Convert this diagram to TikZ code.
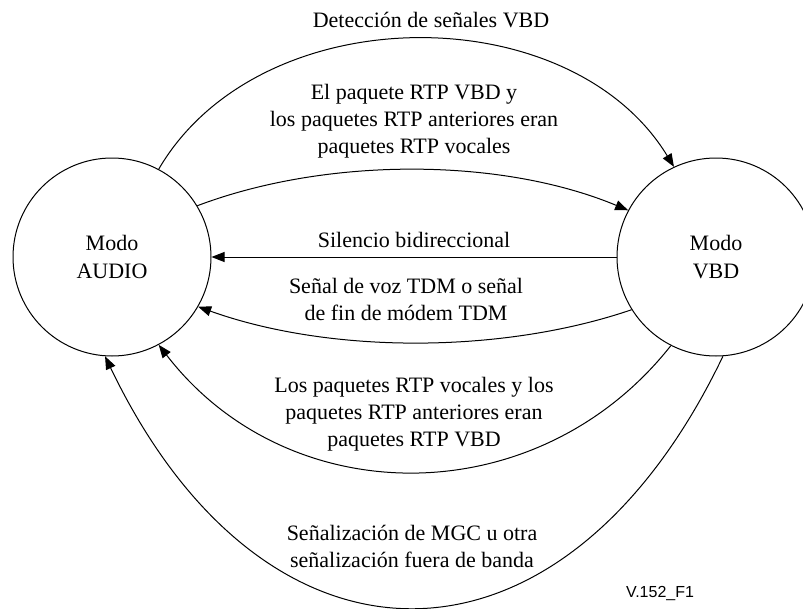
\documentclass[tikz,border=0pt]{standalone}
\usepackage{fontspec}
\setmainfont{Liberation Serif}
\newfontfamily\figsans{Liberation Sans}
\usetikzlibrary{arrows.meta}
\newcommand{\mlines}[1]{\begin{tabular}[t]{@{}c@{}}#1\end{tabular}}
\begin{document}
\begin{tikzpicture}[x=1pt,y=-1pt,
  statenode/.style={circle,draw,line width=1pt,minimum size=198pt,inner sep=0pt,align=center,font=\fontsize{22}{28}\selectfont},
  lbl/.style={anchor=base,inner sep=0pt,font=\fontsize{22}{27}\selectfont},
  trans/.style={line width=1pt,-{Triangle[length=13pt,width=10pt]}}]
\useasboundingbox (0,0) rectangle (803,608);
\clip (0,0) rectangle (803,608);
\node[statenode] (L) at (112,257) {Modo\\AUDIO};
\node[statenode] (R) at (716,257) {Modo\\VBD};
\draw[trans] (L.62.6) .. controls (260,-4) and (570,-4) .. (R.115);
\draw[trans] (L.31.5) .. controls (326,157) and (500,157) .. (R.152.9);
\draw[trans] (R.180) -- (L.0);
\draw[trans] (R.212.2) .. controls (502,354) and (330,354) .. (L.-30.1);
\draw[trans] (R.243.4) .. controls (538,514) and (289,514) .. (L.-62.9);
\draw[trans] (R.274) .. controls (562.5,691) and (265.5,691) .. (L.266);
\node[lbl] (t1) at (431,27) {Detección de señales VBD};
\node[lbl] (t2) at (414,99) {\mlines{El paquete RTP VBD y\\los paquetes RTP anteriores eran\\paquetes RTP vocales}};
\node[lbl] (t3) at (414,247) {Silencio bidireccional};
\node[lbl] (t4) at (406,293) {\mlines{Señal de voz TDM o señal\\de fin de módem TDM}};
\node[lbl] (t5) at (414,392) {\mlines{Los paquetes RTP vocales y los\\paquetes RTP anteriores eran\\paquetes RTP VBD}};
\node[lbl] (t6) at (412,540) {\mlines{Señalización de MGC u otra\\señalización fuera de banda}};
\node[anchor=base,inner sep=0pt,font=\figsans\fontsize{16}{19}\selectfont] (fig) at (660,597) {V.152\_F1};
\end{tikzpicture}
\end{document}
